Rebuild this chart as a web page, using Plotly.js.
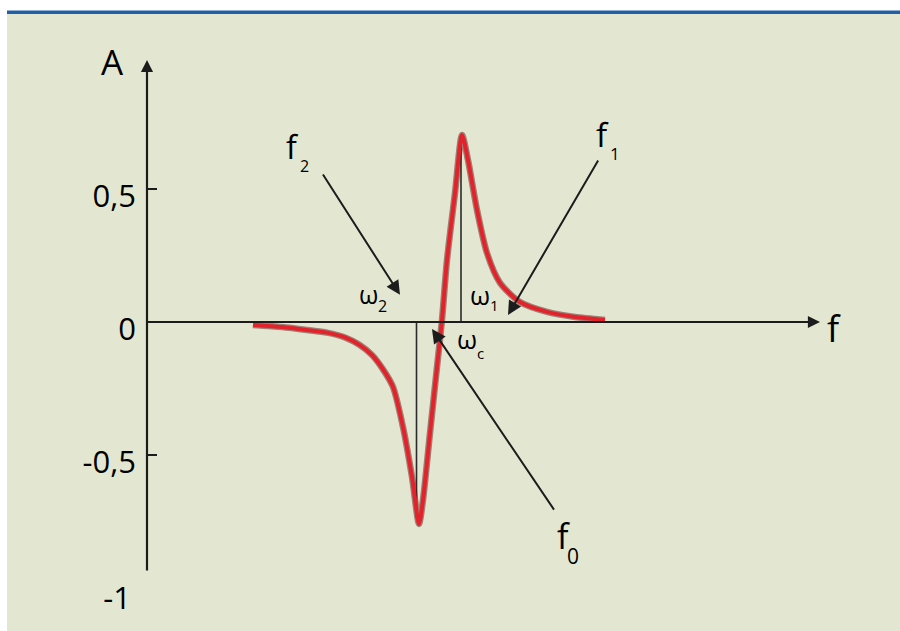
<!DOCTYPE html>
<html>
<head>
<meta charset="utf-8">
<script src="https://cdn.plot.ly/plotly-3.0.1.min.js"></script>
<style>html,body{margin:0;padding:0;background:#fff;}#chart{width:900px;height:631px;}</style>
</head>
<body>
<div id="chart"></div>
<script>
// Frequency (arbitrary units, y-axis at 0) and amplitude
const freq = [2.12, 2.70, 3.20, 3.60, 3.96, 4.24, 4.50, 4.72, 4.92, 5.12, 5.30, 5.44, 5.52, 5.66, 5.80, 5.90, 6.00, 6.16, 6.30, 6.42, 6.60, 6.80, 7.06, 7.46, 8.00, 8.56, 9.16];
const amp  = [-0.011, -0.019, -0.030, -0.040, -0.058, -0.085, -0.124, -0.178, -0.244, -0.395, -0.583, -0.759, -0.669, -0.417, -0.169, 0.008, 0.233, 0.485, 0.703, 0.609, 0.421, 0.259, 0.147, 0.075, 0.038, 0.019, 0.008];

const tickVals = [0.5, 0, -0.5];
const tickText = ['0,5', '0', '-0,5'];
const lowTickVals = [-1];
const lowTickText = ['-1'];

const FONT = 'Open Sans, Noto Sans, sans-serif';
const INK = '#1c1c1c';

let iMin = 0, iMax = 0;
amp.forEach((v, i) => { if (v < amp[iMin]) iMin = i; if (v > amp[iMax]) iMax = i; });

const traces = [
  { x: [freq[iMin] - 0.05, freq[iMin] - 0.05, null, freq[iMax] - 0.02, freq[iMax] - 0.02],
    y: [0, amp[iMin] * 0.97, null, 0, amp[iMax] * 0.97],
    mode: 'lines', line: {color: '#2b2b2b', width: 1.6}, hoverinfo: 'skip', showlegend: false },
  { x: freq, y: amp, mode: 'lines', line: {color: 'rgba(90,25,25,0.5)', width: 6.5, shape: 'spline', smoothing: 0.7},
    hoverinfo: 'skip', showlegend: false },
  { x: freq, y: amp, mode: 'lines', line: {color: '#e3232b', width: 4, shape: 'spline', smoothing: 0.7},
    showlegend: false },
  { x: [0], y: [-1], yaxis: 'y2', mode: 'markers', marker: {opacity: 0}, hoverinfo: 'skip', showlegend: false }
];

function arrow(hx, hy, tx, ty, w, size) {
  return { x: hx, y: hy, ax: tx, ay: ty, xref: 'x', yref: 'y', axref: 'x', ayref: 'y',
    text: '', showarrow: true, arrowhead: 2, arrowsize: size || 1.1, arrowwidth: w || 2,
    arrowcolor: INK, standoff: 0, startstandoff: 0 };
}
function label(t, x, y, size) {
  return { x: x, y: y, xref: 'x', yref: 'y', text: t, showarrow: false,
    xanchor: 'center', yanchor: 'middle', font: {family: FONT, size: size, color: '#000'} };
}

const annotations = [
  arrow(0, 0.985, 0, -0.94, 2.2, 1.1),
  arrow(13.46, 0, 0, 0, 2.2, 1.1),
  arrow(5.06, 0.102, 3.50, 0.560, 2, 1.4),
  arrow(7.22, 0.026, 9.04, 0.613, 2, 1.4),
  arrow(5.70, -0.026, 8.16, -0.711, 2, 1.4),
  label('A', -0.70, 0.981, 35),
  label('f', 13.74, -0.026, 36),
  label('f', 2.90, 0.659, 32),
  label('2', 3.15, 0.585, 16),
  label('f', 9.10, 0.705, 33),
  label('1', 9.35, 0.632, 17),
  label('f', 8.32, -0.806, 34),
  label('0', 8.52, -0.880, 21),
  label('ω', 4.42, 0.107, 25),
  label('2', 4.71, 0.062, 16),
  label('ω', 6.65, 0.103, 26),
  label('1', 6.95, 0.064, 15),
  label('ω', 6.40, -0.064, 26),
  label('c', 6.67, -0.118, 15)
];

const yPos = (147 - 7) / 893;

const layout = {
  width: 900, height: 631,
  margin: {l: 7, r: 0, t: 14, b: 0, pad: 0},
  paper_bgcolor: '#ffffff',
  plot_bgcolor: '#e3e7d1',
  showlegend: false,
  xaxis: {range: [-2.8, 15.06], visible: false, fixedrange: true},
  yaxis: {range: [-1.1617, 1.1579], anchor: 'free', position: yPos, side: 'left',
    showgrid: false, zeroline: false, showline: false,
    tickmode: 'array', tickvals: tickVals, ticktext: tickText,
    ticks: 'inside', ticklen: 9, tickwidth: 2, tickcolor: INK,
    ticklabelstandoff: 11, ticklabelshift: 7,
    tickfont: {family: FONT, size: 31, color: '#000'}, fixedrange: true},
  yaxis2: {range: [-1.1617, 1.1579], overlaying: 'y', anchor: 'free', position: yPos, side: 'left',
    showgrid: false, zeroline: false, showline: false,
    tickmode: 'array', tickvals: lowTickVals, ticktext: lowTickText,
    ticks: '', ticklabelstandoff: 16, ticklabelshift: 10,
    tickfont: {family: FONT, size: 31, color: '#000'}, fixedrange: true},
  shapes: [
    {type: 'line', xref: 'paper', yref: 'paper', x0: 0, x1: 1, y0: 1 + 1.8/617, y1: 1 + 1.8/617,
     line: {color: '#1f5fa8', width: 3.5}}
  ],
  annotations: annotations
};

Plotly.newPlot('chart', traces, layout, {displayModeBar: false, staticPlot: true});
</script>
</body>
</html>
